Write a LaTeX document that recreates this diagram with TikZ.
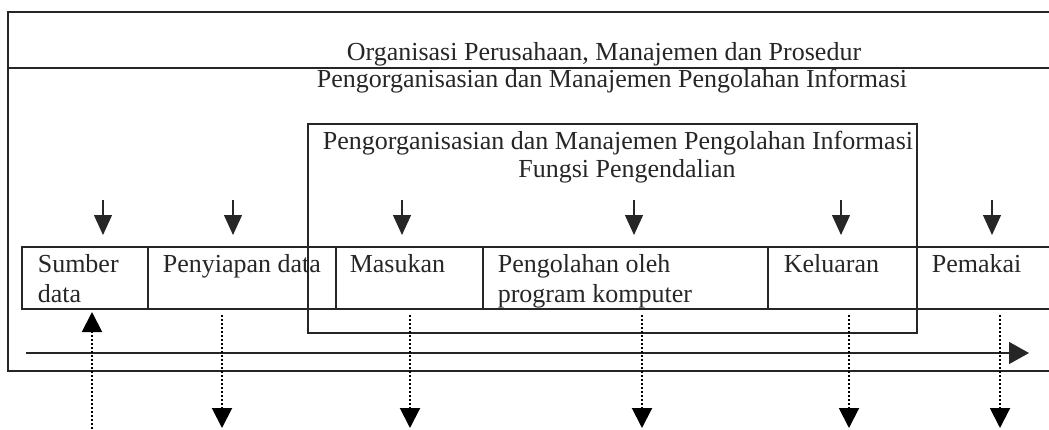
\documentclass[tikz,border=0pt]{standalone}
\usepackage{fontspec}
\setmainfont{Liberation Serif}
\usetikzlibrary{arrows.meta,positioning}

\begin{document}
\begin{tikzpicture}[x=0.5pt,y=-0.5pt,line width=0.8pt,draw=black!85,
  font=\fontsize{13}{15}\selectfont,text=black!85,
  cell/.style={anchor=north west,minimum height=31pt,inner sep=0pt,outer sep=0pt},
  celltext/.style={anchor=north west,align=left,inner sep=0pt},
  feed/.style={-{Triangle[width=9pt,length=10pt]},line width=0.6pt,shorten >=6pt},
  flow/.style={-{Triangle[width=10pt,length=10pt]},densely dotted,line width=1pt,draw=black}]
\useasboundingbox (0,0) rectangle (1049,429);
% outer frame, open to the right
\draw (1049,12) -- (8,12) -- (8,371) -- (1049,371);
\draw (8,68) -- (1049,68);
\node[anchor=base,inner sep=0pt] (org) at (604,60) {Organisasi Perusahaan, Manajemen dan Prosedur};
\node[anchor=base,inner sep=0pt] (pmpi) at (612,87) {Pengorganisasian dan Manajemen Pengolahan Informasi};
% control box
\node[draw,anchor=north west,minimum width=304.5pt,minimum height=104.5pt,inner sep=0pt,outer sep=0pt] (kendali) at (308,124) {};
\node[anchor=base,inner sep=0pt] (kendali1) at (618,149) {Pengorganisasian dan Manajemen Pengolahan Informasi};
\node[anchor=base,inner sep=0pt] (kendali2) at (627,177) {Fungsi Pengendalian};
% row of cells
\node[cell,draw,minimum width=63pt] (sumber) at (22,247) {};
\node[cell,draw,minimum width=94pt] (siap) at (sumber.north east) {};
\node[cell,draw,minimum width=73.5pt] (masuk) at (siap.north east) {};
\node[cell,draw,minimum width=142.5pt] (olah) at (masuk.north east) {};
\node[cell,draw,minimum width=74.5pt] (keluar) at (olah.north east) {};
\node[cell,minimum width=66pt] (pakai) at (keluar.north east) {};
\draw (pakai.north west) -- (pakai.north east) (pakai.south west) -- (pakai.south east);
\node[celltext] at ([xshift=7.5pt,yshift=-3.5pt]sumber.north west) {Sumber\\data};
\node[celltext] at ([xshift=7pt,yshift=-3.5pt]siap.north west) {Penyiapan data};
\node[celltext] at ([xshift=6.5pt,yshift=-3.5pt]masuk.north west) {Masukan};
\node[celltext] at ([xshift=7pt,yshift=-3.5pt]olah.north west) {Pengolahan oleh\\program komputer};
\node[celltext] at ([xshift=7.5pt,yshift=-3.5pt]keluar.north west) {Keluaran};
\node[celltext] at ([xshift=7pt,yshift=-3.5pt]pakai.north west) {Pemakai};
% arrows into the cells
\coordinate (f1) at (103,200);
\coordinate (f2) at (233,200);
\coordinate (f3) at (402,200);
\coordinate (f4) at (634,200);
\coordinate (f5) at (841,200);
\coordinate (f6) at (992,200);
\draw[feed] (f1) -- (f1 |- sumber.north);
\draw[feed] (f2) -- (f2 |- siap.north);
\draw[feed] (f3) -- (f3 |- masuk.north);
\draw[feed] (f4) -- (f4 |- olah.north);
\draw[feed] (f5) -- (f5 |- keluar.north);
\draw[feed] (f6) -- (f6 |- pakai.north);
% time line
\coordinate (t0) at (26,353);
\coordinate (t1) at (1029,353);
\draw[-{Triangle[width=11pt,length=10pt]},line width=0.7pt] (t0) -- (t1);
% dotted flows
\coordinate (d1) at (92,429);
\coordinate (d2) at (222,428);
\coordinate (d3) at (410,428);
\coordinate (d4) at (642,428);
\coordinate (d5) at (849,428);
\coordinate (d6) at (1000,428);
\draw[flow,shorten >=1.5pt] (d1) -- (d1 |- sumber.south);
\draw[flow,shorten <=3pt] (d2 |- siap.south) -- (d2);
\draw[flow,shorten <=3pt] (d3 |- masuk.south) -- (d3);
\draw[flow,shorten <=3pt] (d4 |- olah.south) -- (d4);
\draw[flow,shorten <=3pt] (d5 |- keluar.south) -- (d5);
\draw[flow,shorten <=3pt] (d6 |- pakai.south) -- (d6);
\end{tikzpicture}
\end{document}
